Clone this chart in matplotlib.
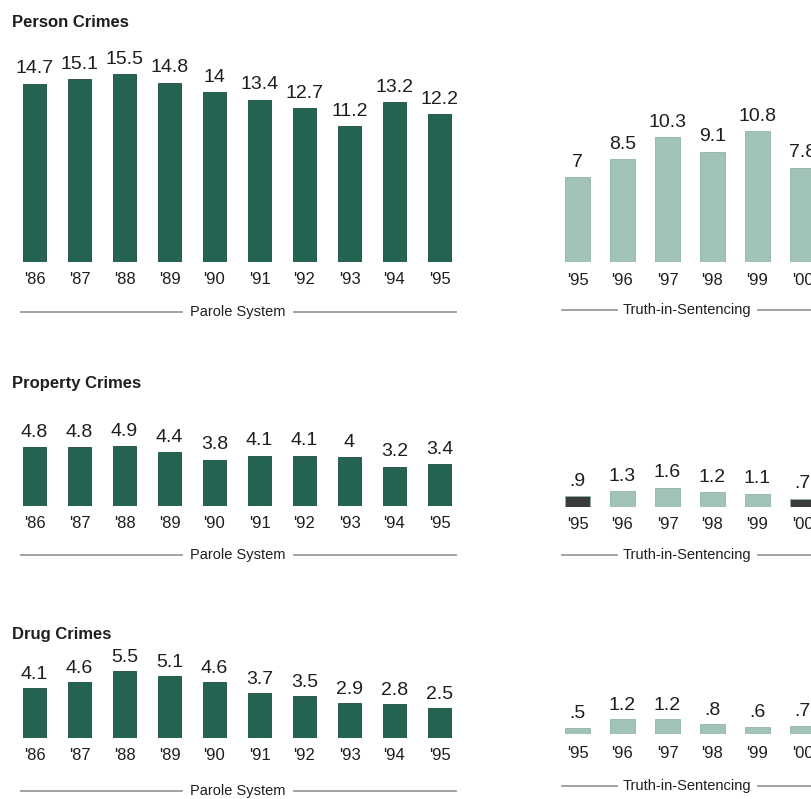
import matplotlib
matplotlib.use("Agg")
import matplotlib.pyplot as plt
from matplotlib.lines import Line2D

# ---- data -------------------------------------------------------------
parole_years = ["'86", "'87", "'88", "'89", "'90", "'91", "'92", "'93", "'94", "'95"]
tis_years = ["'95", "'96", "'97", "'98", "'99", "'00"]

person_parole = [14.7, 15.1, 15.5, 14.8, 14, 13.4, 12.7, 11.2, 13.2, 12.2]
person_tis = [7, 8.5, 10.3, 9.1, 10.8, 7.8]

property_parole = [4.8, 4.8, 4.9, 4.4, 3.8, 4.1, 4.1, 4, 3.2, 3.4]
property_tis = [.9, 1.3, 1.6, 1.2, 1.1, .7]

drug_parole = [4.1, 4.6, 5.5, 5.1, 4.6, 3.7, 3.5, 2.9, 2.8, 2.5]
drug_tis = [.5, 1.2, 1.2, .8, .6, .7]

row_titles = ["Person Crimes", "Property Crimes", "Drug Crimes"]
left_caption = "Parole System"
right_caption = "Truth-in-Sentencing"

# ---- styling ----------------------------------------------------------
W, H = 812, 799
PX_PER_UNIT = 12.1
DARK = "#256352"
DARK_EDGE = "#1b4a3e"
LIGHT = "#a2c4b6"
LIGHT_EDGE = "#8fb3a4"
TEXT = "#1e1e1e"
RULE = "#9a9a9a"
FONT = ["Liberation Sans", "DejaVu Sans"]

plt.rcParams["font.family"] = FONT

fig = plt.figure(figsize=(W / 100, H / 100), dpi=100)
fig.patch.set_facecolor("white")


def fmt(v):
    s = f"{v:g}"
    return s[1:] if s.startswith("0.") else s


def panel(x0, x1, base, top, n_slots_visible):
    ax = fig.add_axes([x0 / W, (H - base) / H, (x1 - x0) / W, (base - top) / H])
    ax.set_xlim(-0.5, -0.5 + n_slots_visible)
    ax.set_ylim(0, (base - top) / PX_PER_UNIT)
    for s in ax.spines.values():
        s.set_visible(False)
    ax.set_yticks([])
    ax.patch.set_alpha(0)
    return ax


def draw_bars(ax, values, labels, color, edge, width_slots, label_gap, tick_pad,
              colors=None):
    x = list(range(len(values)))
    ax.bar(x, values, width=width_slots, color=colors if colors else color,
           edgecolor=edge, linewidth=0.6)
    for xi, v in zip(x, values):
        ax.annotate(fmt(v), (xi, v), xytext=(0, label_gap), textcoords="offset points",
                    ha="center", va="baseline", fontsize=14, color=TEXT,
                    annotation_clip=False)
    ax.set_xticks(x, labels)
    ax.tick_params(axis="x", length=0, pad=tick_pad, labelsize=12, labelcolor=TEXT)


def px_line(x0, x1, y):
    fig.add_artist(Line2D([x0 / W, x1 / W], [(H - y) / H, (H - y) / H],
                          transform=fig.transFigure, color=RULE, lw=1.3))


def caption(text, cx, y, seg_left, seg_right):
    fig.text(cx / W, (H - y) / H, text, ha="center", va="center", fontsize=10.5,
             color=TEXT)
    px_line(seg_left[0], seg_left[1], y)
    px_line(seg_right[0], seg_right[1], y)


rows = [
    dict(title=row_titles[0], title_y=27, parole=person_parole, tis=person_tis,
         base_l=261.7, base_r=262, top_l=40, top_r=40, gap_l=7.5, gap_r=7.5,
         pad_l=7.6, pad_r=7.8, cap_y_l=312, cap_y_r=310, tis_colors=None),
    dict(title=row_titles[1], title_y=388, parole=property_parole, tis=property_tis,
         base_l=505.5, base_r=507, top_l=400, top_r=400, gap_l=7.5, gap_r=7.5,
         pad_l=7.5, pad_r=7.0, cap_y_l=555, cap_y_r=555,
         tis_colors=["#3a3a3a", LIGHT, LIGHT, LIGHT, LIGHT, "#3a3a3a"]),
    dict(title=row_titles[2], title_y=639, parole=drug_parole, tis=drug_tis,
         base_l=738, base_r=734, top_l=650, top_r=650, gap_l=6.5, gap_r=7.0,
         pad_l=7.0, pad_r=8.3, cap_y_l=791, cap_y_r=786, tis_colors=None),
]

for r in rows:
    fig.text(12 / W, (H - r["title_y"]) / H, r["title"], ha="left", va="baseline",
             fontsize=12, fontweight="bold", color=TEXT)

    axl = panel(12, 462, r["base_l"], r["top_l"], 10)
    draw_bars(axl, r["parole"], parole_years, DARK, DARK_EDGE, 23 / 45,
              r["gap_l"], r["pad_l"])

    axr = panel(555, 812, r["base_r"], r["top_r"], (812 - 555) / 45)
    draw_bars(axr, r["tis"], tis_years, LIGHT, LIGHT_EDGE, 25 / 45,
              r["gap_r"], r["pad_r"], colors=r["tis_colors"])

    caption(left_caption, 238, r["cap_y_l"], (21, 182), (294, 456))
    caption(right_caption, 687, r["cap_y_r"], (562, 617), (758, 812))

fig.savefig("out.png", dpi=100, facecolor="white")
